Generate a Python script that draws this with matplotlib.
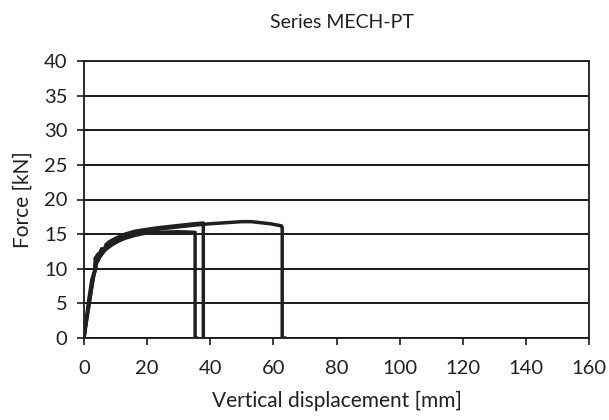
import matplotlib
matplotlib.use("Agg")
import matplotlib.pyplot as plt

# specimen curves: displacement [mm], force [kN]
disp_a = [0, 0.5, 1.5, 2.5, 3.3, 3.6, 4.0, 4.6, 5.5, 6.5, 7.5, 9, 11, 13, 16, 19, 22, 26, 30, 33, 35.2, 35.2, 35.6]
force_a = [0, 2, 5.5, 8.5, 9.6, 11.6, 10.8, 11.4, 12.0, 12.6, 13.0, 13.5, 14.0, 14.4, 14.8, 15.1, 15.2, 15.3, 15.35, 15.3, 15.25, 0, 0]

disp_b = [0, 0.8, 2, 3, 3.8, 4.2, 5, 5.6, 6.2, 7, 8, 10, 13, 16, 20, 24, 28, 32, 35, 37.8, 37.8]
force_b = [0, 2.5, 6, 8.8, 10.2, 12.0, 12.3, 12.9, 12.6, 13.5, 13.9, 14.4, 15.0, 15.4, 15.7, 15.95, 16.15, 16.35, 16.5, 16.6, 0]

disp_c = [0, 0.6, 1.8, 2.8, 3.5, 4.0, 4.6, 5.2, 6.5, 8, 10, 13, 16, 20, 25, 30, 35, 40, 45, 50, 53, 56, 59, 62.5, 62.8, 62.8, 63.6]
force_c = [0, 2, 5.5, 8.5, 9.8, 11.8, 11.3, 12.2, 12.9, 13.4, 13.9, 14.6, 15.1, 15.45, 15.8, 16.05, 16.3, 16.5, 16.65, 16.8, 16.8, 16.65, 16.5, 16.2, 16.0, 0, 0]

x_ticks = list(range(0, 161, 20))
y_ticks = list(range(0, 41, 5))

plt.rcParams["font.family"] = ["Lato", "DejaVu Sans"]
ink = "#231f20"

fig = plt.figure(figsize=(6.09, 4.20), dpi=100)
ax = fig.add_axes([84 / 609, 82 / 420, 505 / 609, 277 / 420])

for x, y in [(disp_a, force_a), (disp_b, force_b), (disp_c, force_c)]:
    ax.plot(x, y, color=ink, lw=2.5, solid_joinstyle="round", zorder=3)

ax.set_xlim(0, 160)
ax.set_ylim(0, 40)
ax.set_xticks(x_ticks)
ax.set_yticks(y_ticks)
ax.yaxis.grid(True, color="#1a1a1a", lw=1.4)
ax.set_axisbelow(True)
for s in ax.spines.values():
    s.set_color("#1a1a1a")
    s.set_linewidth(1.3)
ax.tick_params(direction="out", length=5, width=1.2, color="#1a1a1a",
               labelsize=14.5, labelcolor=ink, pad=7)
ax.tick_params(axis="x", pad=11)

ax.set_xlabel("Vertical displacement [mm]", fontsize=15, color=ink, labelpad=10)
ax.set_ylabel("Force [kN]", fontsize=15, color=ink, labelpad=8)
fig.text(342 / 609, 1 - 22 / 420, "Series MECH-PT", ha="center", va="center",
         fontsize=14, color=ink)

plt.savefig("out.png", dpi=100)
